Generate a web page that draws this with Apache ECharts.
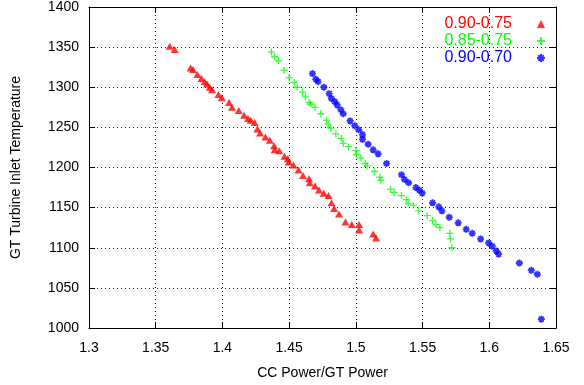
<!DOCTYPE html>
<html><head><meta charset="utf-8">
<script src="https://cdn.jsdelivr.net/npm/echarts@6/dist/echarts.min.js"></script>
<style>html,body{margin:0;padding:0;background:#fff}#c{width:584px;height:385px}</style>
</head><body><div id="c"></div>
<script>
const seriesNames = ['0.90-0.75', '0.85-0.75', '0.90-0.70'];
const seriesColors = ['#ff0000', '#00ff00', '#0000ff'];
const xTicks = [1.3, 1.35, 1.4, 1.45, 1.5, 1.55, 1.6, 1.65];
const yTicks = [1000, 1050, 1100, 1150, 1200, 1250, 1300, 1350, 1400];
const xTitle = 'CC Power/GT Power';
const yTitle = 'GT Turbine Inlet Temperature';

const red = [[1.3605,1351],[1.3642,1347],[1.3762,1324],[1.378,1322],[1.3813,1316],[1.3843,1311],[1.3867,1307],[1.3885,1304],[1.3905,1300],[1.3922,1297],[1.397,1291],[1.3995,1287],[1.405,1281],[1.4072,1275],[1.4122,1271],[1.4162,1265],[1.4192,1261],[1.4212,1259],[1.4242,1256],[1.4262,1248],[1.4282,1243],[1.4322,1238],[1.4355,1234],[1.4387,1227],[1.4392,1222],[1.4425,1221],[1.4465,1214],[1.449,1211],[1.4497,1207],[1.4532,1203],[1.457,1197],[1.4604,1190],[1.4649,1186],[1.4654,1181],[1.4694,1177],[1.4724,1172],[1.4759,1168],[1.4795,1165],[1.4817,1156],[1.4837,1149],[1.4874,1142],[1.4922,1132],[1.497,1129],[1.5024,1129],[1.5024,1122],[1.513,1117],[1.5152,1112]];
const green = [[1.4367,1344],[1.4392,1338],[1.442,1333],[1.4462,1321],[1.45,1312],[1.4537,1306],[1.456,1300],[1.46,1294],[1.4622,1288],[1.465,1281],[1.4662,1279],[1.4694,1275],[1.4737,1267],[1.478,1259],[1.4792,1254],[1.4812,1249],[1.485,1242],[1.4892,1236],[1.4905,1230],[1.4945,1226],[1.5,1221],[1.5005,1216],[1.5037,1212],[1.507,1205],[1.5085,1202],[1.514,1195],[1.518,1188],[1.5187,1184],[1.526,1173],[1.5287,1169],[1.5342,1165],[1.5377,1160],[1.5392,1155],[1.543,1153],[1.547,1146],[1.5535,1140],[1.5575,1134],[1.56,1129],[1.563,1125],[1.5705,1118],[1.571,1111],[1.572,1100]];
const blue = [[1.4675,1317],[1.47,1310],[1.4717,1307],[1.476,1300],[1.48,1292],[1.4817,1286],[1.4842,1282],[1.486,1278],[1.4887,1272],[1.4905,1267],[1.4957,1258],[1.4992,1252],[1.5022,1247],[1.505,1241],[1.505,1235],[1.5092,1229],[1.513,1222],[1.5167,1217],[1.523,1205],[1.5342,1191],[1.5365,1185],[1.5395,1181],[1.545,1175],[1.5475,1172],[1.5497,1168],[1.5575,1156],[1.5622,1151],[1.5645,1146],[1.57,1138],[1.5767,1131],[1.5827,1123],[1.5872,1118],[1.5935,1111],[1.5995,1106],[1.6022,1102],[1.6052,1096],[1.607,1092],[1.6225,1081],[1.6315,1072],[1.636,1067],[1.639,1011]];

const seriesData = [red, green, blue];
const symbols = [
  'triangle',
  'path://M0,5L10,5M5,0L5,10',
  'path://M0,5L10,5M5,0L5,10M1.5,1.5L8.5,8.5M8.5,1.5L1.5,8.5'
];
const font = 'Liberation Sans, Arial, Helvetica, sans-serif';
const xInt = xTicks[1] - xTicks[0];
const yInt = yTicks[1] - yTicks[0];

const chart = echarts.init(document.getElementById('c'), null, {renderer: 'canvas'});
const gridLine = {show: true, lineStyle: {color: '#000', type: [1, 3], width: 1, opacity: 0.9}};
const axisBase = {
  axisLine: {show: true, onZero: false, lineStyle: {color: '#000', width: 1}},
  axisTick: {show: true, inside: true, length: 6, lineStyle: {color: '#000'}}
};
const option = {
  animation: false,
  backgroundColor: '#fff',
  textStyle: {fontFamily: font},
  grid: {left: 89, right: 28, top: 6, bottom: 56, containLabel: false},
  legend: {
    orient: 'vertical', right: 33, top: 11, align: 'right', itemGap: 1,
    itemWidth: 8, itemHeight: 8,
    data: seriesNames.map((n, i) => ({name: n, textStyle: {color: seriesColors[i]}})),
    textStyle: {fontSize: 16, fontFamily: font, padding: [0, 20, 0, 0]}
  },
  xAxis: [
    Object.assign({
      type: 'value', min: xTicks[0], max: xTicks[xTicks.length - 1], interval: xInt,
      name: xTitle, nameLocation: 'middle', nameGap: 38,
      nameTextStyle: {fontSize: 14, color: '#000', fontFamily: font},
      axisLabel: {fontSize: 14, color: '#000', margin: 13, fontFamily: font,
        formatter: v => String(Math.round(v * 100) / 100)},
      splitLine: gridLine
    }, axisBase),
    Object.assign({
      type: 'value', position: 'top', min: xTicks[0], max: xTicks[xTicks.length - 1], interval: xInt,
      axisLabel: {show: false}, splitLine: {show: false}
    }, axisBase)
  ],
  yAxis: [
    Object.assign({
      type: 'value', min: yTicks[0], max: yTicks[yTicks.length - 1], interval: yInt,
      name: yTitle, nameLocation: 'middle', nameGap: 66,
      nameTextStyle: {fontSize: 14, color: '#000', fontFamily: font},
      axisLabel: {fontSize: 14, color: '#000', margin: 10, fontFamily: font,
        formatter: v => String(v)},
      splitLine: gridLine
    }, axisBase),
    Object.assign({
      type: 'value', position: 'right', min: yTicks[0], max: yTicks[yTicks.length - 1], interval: yInt,
      axisLabel: {show: false}, splitLine: {show: false}
    }, axisBase)
  ],
  series: seriesNames.map((n, i) => ({
    name: n, type: 'scatter', data: seriesData[i],
    symbol: symbols[i], symbolSize: i === 0 ? [8, 7] : 7,
    itemStyle: i === 0 ? {color: seriesColors[i]} :
      {color: 'rgba(0,0,0,0)', borderColor: seriesColors[i], borderWidth: i === 2 ? 1.8 : 1.3}
  }))
};
chart.setOption(option);
</script></body></html>
